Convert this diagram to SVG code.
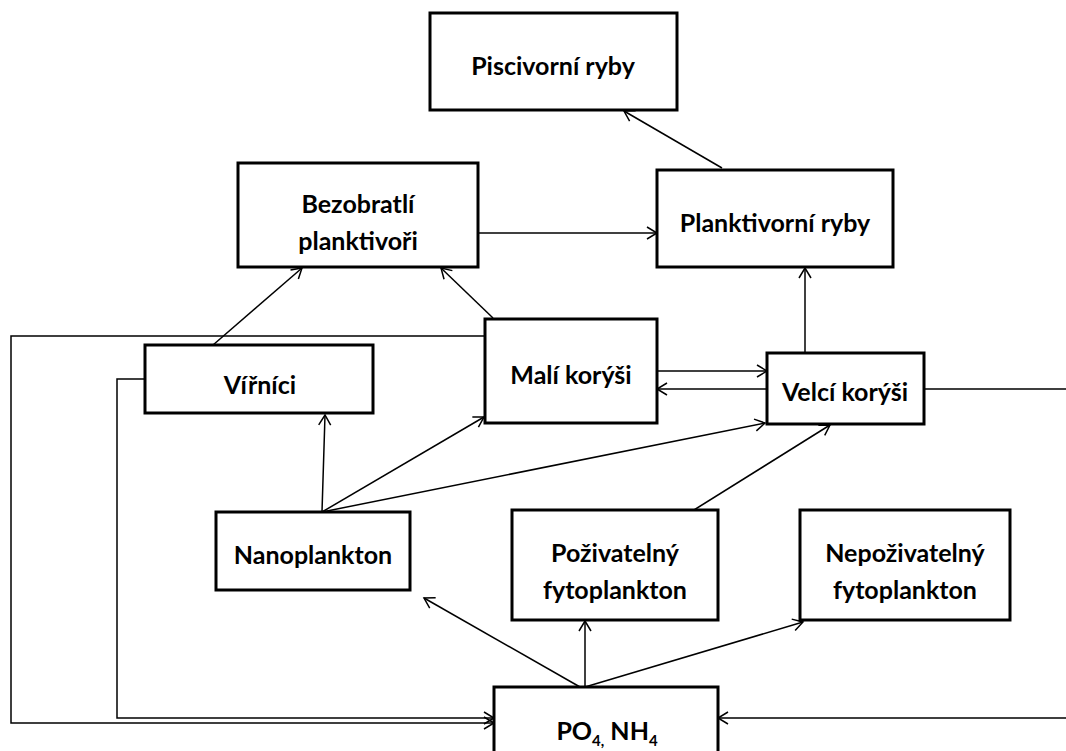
<svg xmlns="http://www.w3.org/2000/svg" width="1066" height="751" viewBox="0 0 1066 751">
<defs>
<marker id="arr" markerUnits="userSpaceOnUse" markerWidth="14" markerHeight="14" refX="11" refY="7" orient="auto">
<path d="M1,1 L11,7 L1,13" fill="none" stroke="#000" stroke-width="1.5"/>
</marker>
<style>
rect{fill:#fff;stroke:#000;stroke-width:3}
text{font-family:Lato,"Liberation Sans",sans-serif;font-weight:700;font-size:25px;fill:#000;text-anchor:middle}
.c line,.c polyline{stroke:#000;stroke-width:1.5;fill:none}
</style>
</defs>
<rect width="1066" height="751" style="fill:#fff;stroke:none"/>
<g class="c" id="connectors">
<line x1="722" y1="168" x2="624" y2="111" marker-end="url(#arr)"/>
<line x1="478" y1="233" x2="657" y2="233" marker-end="url(#arr)"/>
<line x1="805" y1="353" x2="805" y2="268" marker-end="url(#arr)"/>
<line x1="213" y1="345" x2="302" y2="268" marker-end="url(#arr)"/>
<line x1="493" y1="318" x2="441" y2="268" marker-end="url(#arr)"/>
<line x1="657" y1="371" x2="767" y2="371" marker-end="url(#arr)"/>
<line x1="767" y1="389" x2="657" y2="389" marker-end="url(#arr)"/>
<polyline points="485,336 11,336 11,723 494,723" marker-end="url(#arr)"/>
<polyline points="145,379 117,379 117,718 494,718" marker-end="url(#arr)"/>
<polyline points="924,389 1072,389 1072,718 718,718" marker-end="url(#arr)"/>
<line x1="322" y1="512" x2="325" y2="415" marker-end="url(#arr)"/>
<line x1="322" y1="512" x2="484" y2="417" marker-end="url(#arr)"/>
<line x1="322" y1="512" x2="765" y2="423" marker-end="url(#arr)"/>
<line x1="694" y1="510" x2="830" y2="425" marker-end="url(#arr)"/>
<line x1="580" y1="687" x2="424" y2="598" marker-end="url(#arr)"/>
<line x1="585" y1="687" x2="585" y2="621" marker-end="url(#arr)"/>
<line x1="585" y1="687" x2="803" y2="622" marker-end="url(#arr)"/>
</g>
<g id="piscivorni"><rect x="430" y="13" width="247" height="97"/><text x="553" y="75">Piscivorní ryby</text></g>
<g id="bezobratli"><rect x="238" y="163" width="240" height="104"/><text x="358" y="213">Bezobratlí</text><text x="358" y="250">planktivoři</text></g>
<g id="planktivorni"><rect x="657" y="170" width="236" height="97"/><text x="775" y="232">Planktivorní ryby</text></g>
<g id="virnici"><rect x="145" y="345" width="228" height="68"/><text x="260" y="394">Vířníci</text></g>
<g id="mali"><rect x="485" y="319" width="172" height="104"/><text x="571" y="384">Malí korýši</text></g>
<g id="velci"><rect x="767" y="353" width="157" height="71"/><text x="845" y="401">Velcí korýši</text></g>
<g id="nanoplankton"><rect x="216" y="512" width="194" height="78"/><text x="313" y="564">Nanoplankton</text></g>
<g id="pozivatelny"><rect x="512" y="510" width="206" height="110"/><text x="615" y="562">Poživatelný</text><text x="615" y="599">fytoplankton</text></g>
<g id="nepozivatelny"><rect x="800" y="510" width="210" height="110"/><text x="905" y="562">Nepoživatelný</text><text x="905" y="599">fytoplankton</text></g>
<g id="po4"><rect x="494" y="687" width="224" height="80"/><text x="607" y="740">PO<tspan font-size="15" dy="6">4,</tspan><tspan dy="-6"> NH</tspan><tspan font-size="15" dy="6">4</tspan></text></g>
</svg>
